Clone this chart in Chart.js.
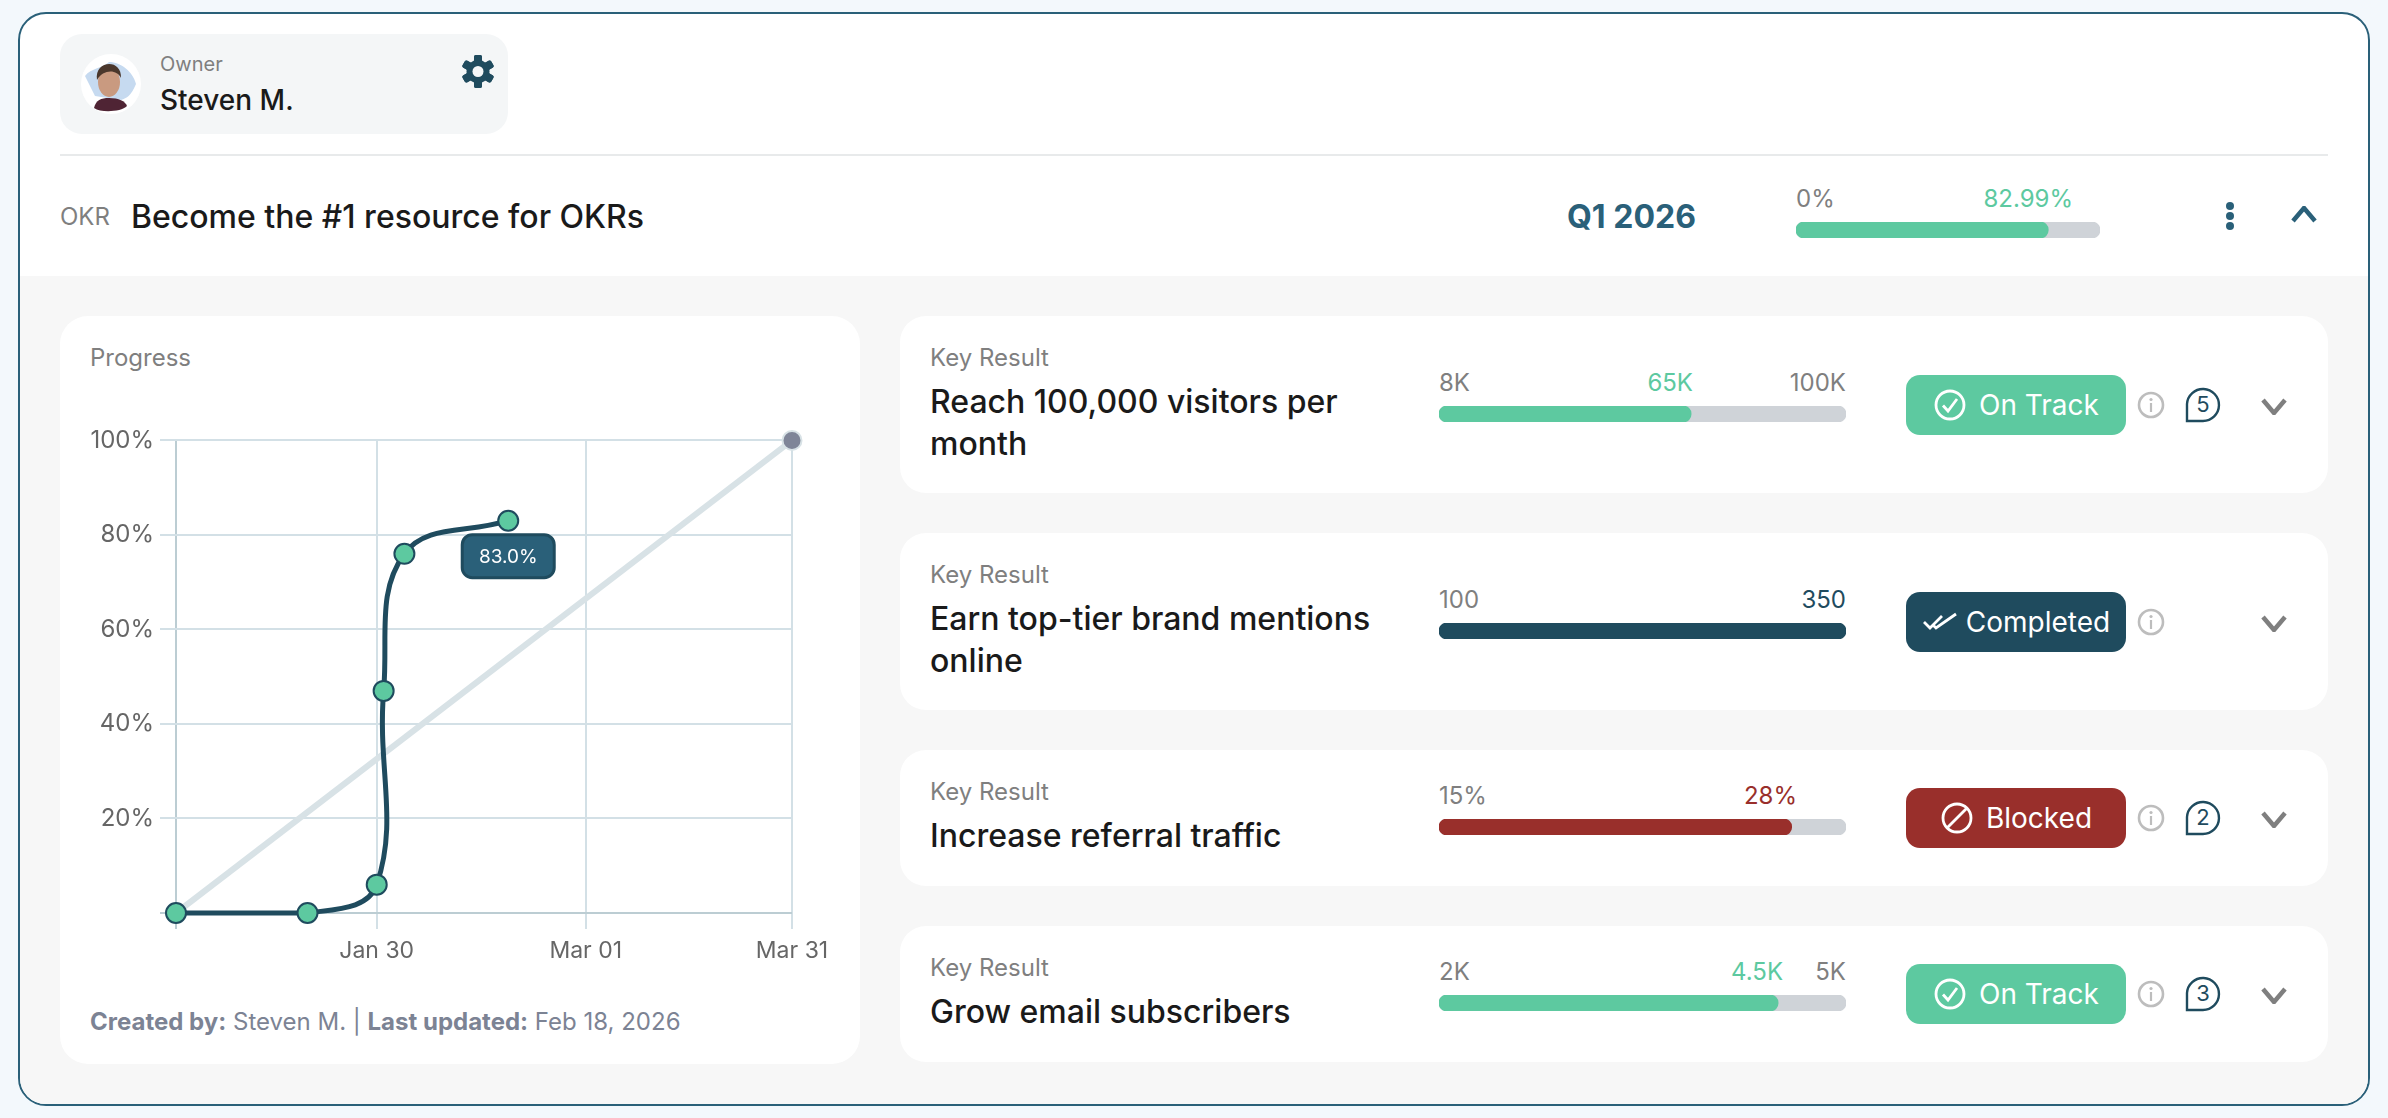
<!DOCTYPE html>
<html>
<head>
<meta charset="utf-8">
<title>OKR progress</title>
<script src="https://cdn.jsdelivr.net/npm/chart.js@4"></script>
<style>
  html, body { margin: 0; padding: 0; background: #f3f8fc; }
  body { width: 2388px; height: 1118px; overflow: hidden; position: relative; font-family: Inter, "Noto Sans", sans-serif; }
  .abs { position: absolute; white-space: nowrap; }
  .mid { transform: translateY(-50%); }
  canvas { display: block; }
</style>
</head>
<body>
<div class="abs" style="left:18px;top:12px;width:2352px;height:1094px;box-sizing:border-box;border:2px solid #2a6079;border-radius:28px;background:#fff;overflow:hidden">
  <div class="abs" style="left:0;top:262px;right:0;bottom:0;background:#f7f7f7"></div>
</div>
<div id="root"></div>
<div class="abs" style="left:70px;top:420px;width:780px;height:551px"><canvas id="progressChart" width="780" height="551"></canvas></div>

<script>
// line chart data (x = days since Jan 1)
const actualDays = [0, 19, 29, 30, 33, 48];
const actualValues = [0, 0, 6, 47, 76, 83];
const idealDays = [0, 89];
const idealValues = [0, 100];
const xTickDays = [0, 29, 59.2, 89];
const xTickLabels = ["", "Jan 30", "Mar 01", "Mar 31"];
const yTickValues = [0, 20, 40, 60, 80, 100];
const currentLabel = "83.0%";

// objective bar
const okrStart = 0;
const okrCurrent = 82.99;
const okrTarget = 100;

// key results
const krTitles = [
  ["Reach 100,000 visitors per", "month"],
  ["Earn top-tier brand mentions", "online"],
  ["Increase referral traffic"],
  ["Grow email subscribers"],
];
const krStart = [8, 100, 15, 2];
const krCurrent = [65, 350, 28, 4.5];
const krTarget = [100, 350, 30, 5];
const krStartLabels = ["8K", "100", "15%", "2K"];
const krCurrentLabels = ["65K", "350", "28%", "4.5K"];
const krTargetLabels = ["100K", "", "", "5K"];
const krStatus = ["On Track", "Completed", "Blocked", "On Track"];
const krComments = [5, 0, 2, 3];

const GREEN = "#5dc9a0", NAVY = "#1f4b5e", TEAL = "#2a6079", RED = "#992f2b", GREY = "#7f7f7f", TRACK = "#cfd3d8";
const statusColor = { "On Track": GREEN, "Completed": NAVY, "Blocked": RED };

// layout of the cards
const cardTop = [316, 533, 750, 926];
const cardHeight = [177, 177, 136, 136];
const cardMid = [405, 622, 818, 994];
const barTop = [406, 623, 819, 995];
const currentRight = [1693, 1846, 1797, 1783];

const root = document.getElementById("root");

function put(html, css, cls) {
  const el = document.createElement("div");
  el.className = "abs " + (cls || "");
  el.style.cssText = css;
  el.innerHTML = html;
  root.appendChild(el);
  return el;
}

function text(str, x, y, size, color, extra) {
  return put(str, `left:${x}px;top:${y}px;font-size:${size}px;color:${color};${extra || ""}`, "mid");
}

function textRight(str, right, y, size, color, extra) {
  return put(str, `right:${2388 - right}px;top:${y}px;font-size:${size}px;color:${color};${extra || ""}`, "mid");
}

function svg(x, y, w, h, body) {
  put(`<svg width="${w}" height="${h}" viewBox="0 0 ${w} ${h}" style="display:block">${body}</svg>`,
    `left:${x}px;top:${y}px;width:${w}px;height:${h}px`);
}

// progress bars are small horizontal bar charts
function progressBar(x, y, w, start, current, target, color) {
  const holder = put(`<canvas width="${w}" height="16"></canvas>`, `left:${x}px;top:${y}px;width:${w}px;height:16px`);
  // base has to be the start value or the rounded left end falls outside the canvas
  const barStyle = { base: start, grouped: false, barPercentage: 1, categoryPercentage: 1, borderRadius: 8, borderSkipped: false };
  new Chart(holder.querySelector("canvas"), {
    type: "bar",
    data: {
      labels: [""],
      datasets: [
        { data: [current], backgroundColor: color, order: 1, ...barStyle },
        { data: [target], backgroundColor: TRACK, order: 2, ...barStyle },
      ],
    },
    options: {
      indexAxis: "y",
      responsive: false,
      animation: false,
      layout: { padding: 0 },
      scales: {
        x: { display: false, min: start, max: target },
        y: { display: false },
      },
      plugins: { legend: { display: false }, tooltip: { enabled: false } },
    },
  });
}

function chevron(x, y, w, h, color, up) {
  const a = up ? h - 2 : 2, b = up ? 2 : h - 2;
  svg(x, y, w, h, `<path d="M2 ${a} L${w / 2} ${b} L${w - 2} ${a}" fill="none" stroke="${color}" stroke-width="4.5"/>`);
}

function statusIcon(status, cx, cy) {
  let body = `<circle cx="17" cy="17" r="14" fill="none" stroke="#fff" stroke-width="2.8"/>`;
  if (status === "On Track") body += `<path d="M10 17.5 L15 23 L24 11" fill="none" stroke="#fff" stroke-width="2.8"/>`;
  if (status === "Blocked") body += `<path d="M7 27 L27 7" fill="none" stroke="#fff" stroke-width="2.8"/>`;
  if (status === "Completed") {
    body = `<path d="M2 17 L8 23 L20 11 M12 21 L14 23 L34 9" fill="none" stroke="#fff" stroke-width="2.8"/>`;
  }
  svg(cx - 17, cy - 17, 36, 34, body);
}

// header
put("", "left:60px;top:34px;width:448px;height:100px;background:#f4f6f7;border-radius:22px");
svg(81, 54, 60, 60, `
  <circle cx="30" cy="30" r="30" fill="#fff"/>
  <path d="M4 22 C10 14 22 14 28 8 C40 8 52 18 55 30 C50 42 46 44 40 46 L14 42 Z" fill="#c6daf0"/>
  <path d="M13 54 C15 46 20 44 28 44 C38 44 44 47 46 52 C40 58 20 59 13 54 Z" fill="#4f2434"/>
  <ellipse cx="28" cy="28" rx="11" ry="15" fill="#c99a80"/>
  <path d="M16 26 C13 6 41 4 40 24 C36 15 22 15 16 26 Z" fill="#4a372c"/>`);
text("Owner", 160, 64, 20, GREY);
text("Steven M.", 160, 100, 28, "#1a1a1a", "font-weight:500");
let gearTeeth = "";
for (let a = 0; a < 6; a++) gearTeeth += `<rect x="12" y="0" width="8" height="33" rx="2" fill="${NAVY}" transform="rotate(${a * 60} 16 16.5)"/>`;
svg(462, 55, 32, 33, `${gearTeeth}<circle cx="16" cy="16.5" r="11.5" fill="${NAVY}"/><circle cx="16" cy="16.5" r="5.5" fill="#f4f6f7"/>`);
put("", "left:60px;top:154px;width:2268px;height:2px;background:#e8eaeb");

text("OKR", 60, 216, 24, GREY);
text("Become the #1 resource for OKRs", 131, 216, 32, "#1a1a1a", "font-weight:500");
text("Q1 2026", 1567, 216, 32, TEAL, "font-weight:700");
text(okrStart + "%", 1796, 198, 24, GREY);
textRight(okrCurrent + "%", 2073, 198, 24, GREEN);
progressBar(1796, 222, 304, okrStart, okrCurrent, okrTarget, GREEN);
svg(2225, 201, 10, 30, `<circle cx="5" cy="5" r="4" fill="${TEAL}"/><circle cx="5" cy="15" r="4" fill="${TEAL}"/><circle cx="5" cy="25" r="4" fill="${TEAL}"/>`);
chevron(2291, 206, 26, 17, TEAL, true);

// progress card
put("", "left:60px;top:316px;width:800px;height:748px;background:#fff;border-radius:28px");
text("Progress", 90, 357, 24, GREY);
text(`<b>Created by:</b> Steven M. <span style="font-weight:400;color:#7c8394">|</span> <b>Last updated:</b> Feb 18, 2026`, 90, 1021, 24, "#7c8394");

// key result cards
krTitles.forEach((lines, i) => {
  const top = cardTop[i], mid = cardMid[i];
  const color = statusColor[krStatus[i]];
  put("", `left:900px;top:${top}px;width:1428px;height:${cardHeight[i]}px;background:#fff;border-radius:26px`);
  text("Key Result", 930, top + 41, 24, GREY);
  lines.forEach((line, n) => text(line, 930, top + 85 + n * 42, 32, "#1a1a1a", "font-weight:500"));

  text(krStartLabels[i], 1439, barTop[i] - 24, 24, GREY);
  textRight(krCurrentLabels[i], currentRight[i], barTop[i] - 24, 24, color);
  if (krTargetLabels[i]) textRight(krTargetLabels[i], 1846, barTop[i] - 24, 24, GREY);
  progressBar(1439, barTop[i], 407, krStart[i], krCurrent[i], krTarget[i], color);

  put("", `left:1906px;top:${mid - 30}px;width:220px;height:60px;background:${color};border-radius:14px`);
  const label = text(krStatus[i], 2016, mid, 28, "#fff");
  const labelWidth = label.getBoundingClientRect().width;
  const iconW = krStatus[i] === "Completed" ? 36 : 34;
  const gap = krStatus[i] === "Completed" ? 8 : 12;
  const startX = 2016 - (iconW + gap + labelWidth) / 2;
  label.style.left = startX + iconW + gap + "px";
  statusIcon(krStatus[i], startX + 17, mid);

  svg(2137, mid - 15, 30, 30, `<circle cx="14" cy="15" r="12" fill="none" stroke="#bdbdbd" stroke-width="2.6"/>
    <circle cx="14" cy="9.5" r="1.6" fill="#bdbdbd"/><path d="M14 13 V22" stroke="#bdbdbd" stroke-width="2.2"/>`);
  if (krComments[i]) {
    svg(2185, mid - 18, 36, 36, `<path d="M2 34 V17 A16 16 0 1 1 18 34 Z" fill="none" stroke="${NAVY}" stroke-width="2.4"/>`);
    put(String(krComments[i]), `left:2185px;top:${mid - 1}px;width:36px;text-align:center;font-size:22px;color:${NAVY}`, "mid");
  }
  chevron(2261, mid - 7, 26, 17, GREY, false);
});

// custom plugin for the value box under the last point
const valueBoxPlugin = {
  id: "valueBoxPlugin",
  afterDatasetsDraw(chart) {
    const { ctx, scales: { x, y } } = chart;
    const last = actualValues.length - 1;
    const xPos = x.getPixelForValue(actualDays[last]);
    const yPos = y.getPixelForValue(actualValues[last]);
    const w = 92, h = 43;
    ctx.save();
    ctx.fillStyle = TEAL;
    ctx.strokeStyle = NAVY;
    ctx.lineWidth = 3;
    ctx.beginPath();
    ctx.roundRect(xPos - w / 2, yPos + 14, w, h, 10);
    ctx.fill();
    ctx.stroke();
    ctx.fillStyle = "#fff";
    ctx.font = "19px Inter";
    ctx.textAlign = "center";
    ctx.textBaseline = "middle";
    ctx.fillText(currentLabel, xPos, yPos + 14 + h / 2 + 1);
    ctx.restore();
  },
};

const gridColor = (c) => (c.tick && c.tick.value === 0 ? "#bccdd3" : "#d3e0e6");

new Chart(document.getElementById("progressChart"), {
  type: "line",
  data: {
    datasets: [
      {
        data: actualDays.map((d, i) => ({ x: d, y: actualValues[i] })),
        borderColor: NAVY,
        borderWidth: 5,
        tension: 0.4,
        pointRadius: 10,
        pointBackgroundColor: GREEN,
        pointBorderColor: NAVY,
        pointBorderWidth: 2,
        clip: false,
        order: 1,
      },
      {
        data: idealDays.map((d, i) => ({ x: d, y: idealValues[i] })),
        borderColor: "#d8e2e6",
        borderWidth: 6,
        pointRadius: [0, 9.5],
        pointBackgroundColor: "#7f8598",
        pointBorderColor: "#d8e2e6",
        pointBorderWidth: 2,
        clip: false,
        order: 2,
      },
    ],
  },
  options: {
    responsive: false,
    animation: false,
    layout: { padding: { top: 20, right: 58, left: 0, bottom: 0 } },
    scales: {
      x: {
        type: "linear",
        min: 0,
        max: 89,
        afterBuildTicks(scale) {
          scale.ticks = xTickDays.map((v) => ({ value: v }));
        },
        afterFit(scale) {
          scale.height = 58;
        },
        border: { display: false },
        grid: { color: gridColor, tickColor: gridColor, lineWidth: 2, tickLength: 16 },
        ticks: {
          autoSkip: false,
          maxRotation: 0,
          padding: 8,
          color: "#666",
          font: { family: "Inter", size: 23 },
          callback: (v) => xTickLabels[xTickDays.indexOf(v)],
        },
      },
      y: {
        min: yTickValues[0],
        max: yTickValues[yTickValues.length - 1],
        afterBuildTicks(scale) {
          scale.ticks = yTickValues.map((v) => ({ value: v }));
        },
        afterFit(scale) {
          scale.width = 106;
        },
        border: { display: false },
        grid: { color: gridColor, tickColor: gridColor, lineWidth: 2, tickLength: 16 },
        ticks: {
          padding: 6,
          color: "#666",
          font: { family: "Inter", size: 24 },
          callback: (v) => (v === 0 ? "" : v + "%"),
        },
      },
    },
    plugins: {
      legend: { display: false },
      tooltip: { enabled: false },
    },
  },
  plugins: [valueBoxPlugin],
});
</script>
</body>
</html>
